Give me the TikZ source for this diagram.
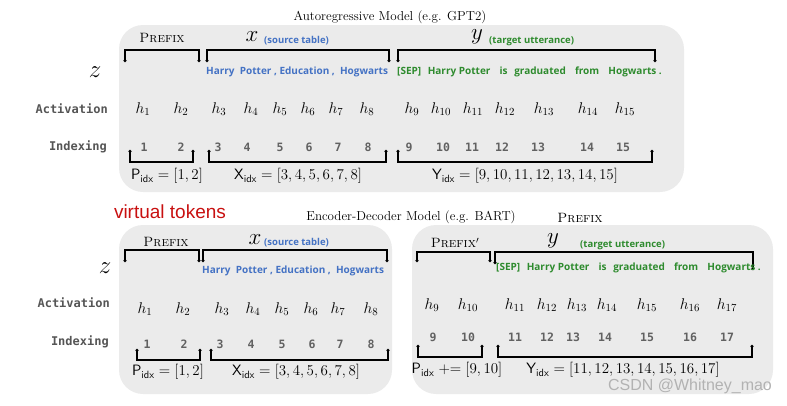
\RequirePackage{fix-cm}
\documentclass[tikz,border=0pt]{standalone}
\usepackage{fontspec}
\usepackage{amsmath}
\usetikzlibrary{positioning,arrows.meta}
\newfontfamily\tokfont{Open Sans}
\newfontfamily\codefont{DejaVu Sans Mono}
\newfontfamily\redfont{Liberation Sans}
\definecolor{boxgray}{RGB}{235,235,235}
\definecolor{srcblue}{RGB}{68,114,196}
\definecolor{tgtgreen}{RGB}{46,139,46}
\definecolor{labgray}{RGB}{85,85,85}
\definecolor{vtred}{RGB}{200,16,16}
\newcommand{\gap}{\hspace{4pt}}
\tikzstyle{panel}=[fill=boxgray,rounded corners=24pt]
\tikzstyle{brak}=[line width=1.4pt,{Circle[length=2.8pt]}-{Circle[length=2.8pt]}]
\tikzstyle{title}=[font=\fontsize{13}{15}\selectfont]
\tikzstyle{part}=[font=\fontsize{13.5}{15}\selectfont\scshape]
\tikzstyle{mvar}=[font=\fontsize{23}{25}\selectfont]
\tikzstyle{note}=[font=\tokfont\bfseries\fontsize{9.5}{11}\selectfont]
\tikzstyle{words}=[font=\tokfont\bfseries\fontsize{10}{12}\selectfont,anchor=west]
\tikzstyle{rowlabel}=[font=\codefont\bfseries\fontsize{12}{14}\selectfont,text=labgray,anchor=east]
\tikzstyle{act}=[font=\fontsize{15.5}{17}\selectfont]
\tikzstyle{idx}=[font=\codefont\bfseries\fontsize{11.5}{13}\selectfont,text=black!62]
\tikzstyle{span}=[font=\fontsize{15}{17}\selectfont]
\begin{document}
\begin{tikzpicture}[x=1pt,y=-1pt,every node/.style={inner sep=1pt}]
    \useasboundingbox (0,0) rectangle (787,405);

    % panels
    \fill[panel] (119,25) rectangle (684,192);
    \fill[panel] (119,225) rectangle (392,394);
    \fill[panel] (412,225) rectangle (773,394);

    % titles
    \node[title] (artitle) at (390,17) {Autoregressive Model (e.g. GPT2)};
    \node[title] (edtitle) at (411,217) {Encoder-Decoder Model (e.g. BART)};
    \node[part] (stray) at (580,218) {Prefix};
    \node[font=\redfont\fontsize{19}{21}\selectfont,text=vtred] (virt) at (170,212) {virtual tokens};

    %%%% autoregressive model
    \node[part] (pre) at (162,38) {Prefix};
    \node[mvar] (xa) at (252,37) {$x$};
    \node[note,text=srcblue,anchor=west] (srca) at (263,41) {(source table)};
    \node[mvar] (ya) at (477,37) {$y$};
    \node[note,text=tgtgreen,anchor=west] (tgta) at (488,41) {(target utterance)};
    \node[font=\fontsize{25}{27}\selectfont] (za) at (95,72) {$z$};

    \draw[brak] (125,62) -- (125,50) -- (199,50) -- (199,62);
    \draw[brak] (207,62) -- (207,50) -- (389,50) -- (389,62);
    \draw[brak] (398,62) -- (398,50) -- (655,50) -- (655,62);

    \node[words,text=srcblue] (wxa) at (205,72) {Harry\ \ Potter , Education ,\ \ Hogwarts};
    \node[words,text=tgtgreen] (wya) at (396,72) {[SEP]\gap\ Harry Potter\gap\ \ is\gap\ graduated\gap\ \ from\gap\ \ Hogwarts .};

    \node[rowlabel] (acta) at (109,109) {Activation};
    \node[rowlabel] (idxa) at (108,147) {Indexing};

    \foreach \x/\i in {143/1,181/2,219/3,251/4,280/5,308/6,336/7,367/8,412/9,441/10,473/11,505/12,544/13,588/14,625/15}
        \node[act] (ha\i) at (\x,109) {$h_{\i}$};
    \foreach \x/\i in {144/1,181/2,218/3,247/4,280/5,309/6,338/7,368/8,409/9,443/10,472/11,502/12,538/13,587/14,623/15}
        \node[idx] (ia\i) at (\x,147) {\i};

    \draw[brak] (130,150) -- (130,162) -- (193,162) -- (193,150);
    \draw[brak] (209,150) -- (209,162) -- (386,162) -- (386,150);
    \draw[brak] (398,150) -- (398,162) -- (652,162) -- (652,150);

    \node[span] (pa) at (167,176) {$\mathsf{P}_{\mathsf{idx}} = [1,2]$};
    \node[span] (xia) at (298,176) {$\mathsf{X}_{\mathsf{idx}} = [3,4,5,6,7,8]$};
    \node[span] (yia) at (525,176) {$\mathsf{Y}_{\mathsf{idx}} = [9,10,11,12,13,14,15]$};

    %%%% encoder-decoder model, encoder side
    \node[part] (preb) at (166,242) {Prefix};
    \node[mvar] (xb) at (255,240) {$x$};
    \node[note,text=srcblue,anchor=west] (srcb) at (263,243) {(source table)};
    \node[font=\fontsize{25}{27}\selectfont] (zb) at (105,268) {$z$};

    \draw[brak] (125,262) -- (125,250) -- (199,250) -- (199,262);
    \draw[brak] (203,262) -- (203,250) -- (387,250) -- (387,262);

    \node[words,text=srcblue] (wxb) at (201,271) {Harry\ \ Potter , Education ,\ \ Hogwarts};

    \node[rowlabel] (actb) at (111,303) {Activation};
    \node[rowlabel] (idxb) at (110,342) {Indexing};

    \foreach \x/\i in {145/1,183/2,222/3,253/4,282/5,311/6,338/7,371/8}
        \node[act] (hb\i) at (\x,309) {$h_{\i}$};
    \foreach \x/\i in {147/1,184/2,220/3,251/4,282/5,312/6,340/7,371/8}
        \node[idx] (ib\i) at (\x,344) {\i};

    \draw[brak] (137,349) -- (137,360) -- (200,360) -- (200,349);
    \draw[brak] (211,349) -- (211,360) -- (388,360) -- (388,349);

    \node[span] (pb) at (168,372) {$\mathsf{P}_{\mathsf{idx}} = [1,2]$};
    \node[span] (xib) at (296,372) {$\mathsf{X}_{\mathsf{idx}} = [3,4,5,6,7,8]$};

    %%%% encoder-decoder model, decoder side
    \node[part] (prec) at (455,243) {Prefix$'$};
    \node[mvar] (yc) at (553,241) {$y$};
    \node[note,text=tgtgreen,anchor=west] (tgtc) at (579,245) {(target utterance)};

    \draw[brak] (417,262) -- (417,252) -- (490,252) -- (490,262);
    \draw[brak] (495,264) -- (495,252) -- (753,252) -- (753,270);

    \node[words,text=tgtgreen] (wyc) at (495,268) {[SEP]\gap\ Harry Potter\gap\ \ is\gap\ graduated\gap\ \ from\gap\ \ Hogwarts .};

    \foreach \x/\i in {432/9,468/10,515/11,547/12,577/13,607/14,647/15,690/16,727/17}
        \node[act] (hc\i) at (\x,305) {$h_{\i}$};
    \foreach \x/\i in {433/9,468/10,515/11,547/12,573/13,605/14,647/15,690/16,727/17}
        \node[idx] (ic\i) at (\x,337) {\i};

    \draw[brak] (418,345) -- (418,357) -- (482,357) -- (482,345);
    \draw[brak] (498,345) -- (498,357) -- (752,357) -- (752,345);

    \node[span] (pc) at (457,370) {$\mathsf{P}_{\mathsf{idx}} \mathrel{+}= [9,10]$};
    \node[span] (yic) at (623,370) {$\mathsf{Y}_{\mathsf{idx}} = [11,12,13,14,15,16,17]$};

    \node[font=\redfont\fontsize{16}{18}\selectfont,text=black!30] (mark) at (690,386) {CSDN @Whitney\_mao};
\end{tikzpicture}
\end{document}
